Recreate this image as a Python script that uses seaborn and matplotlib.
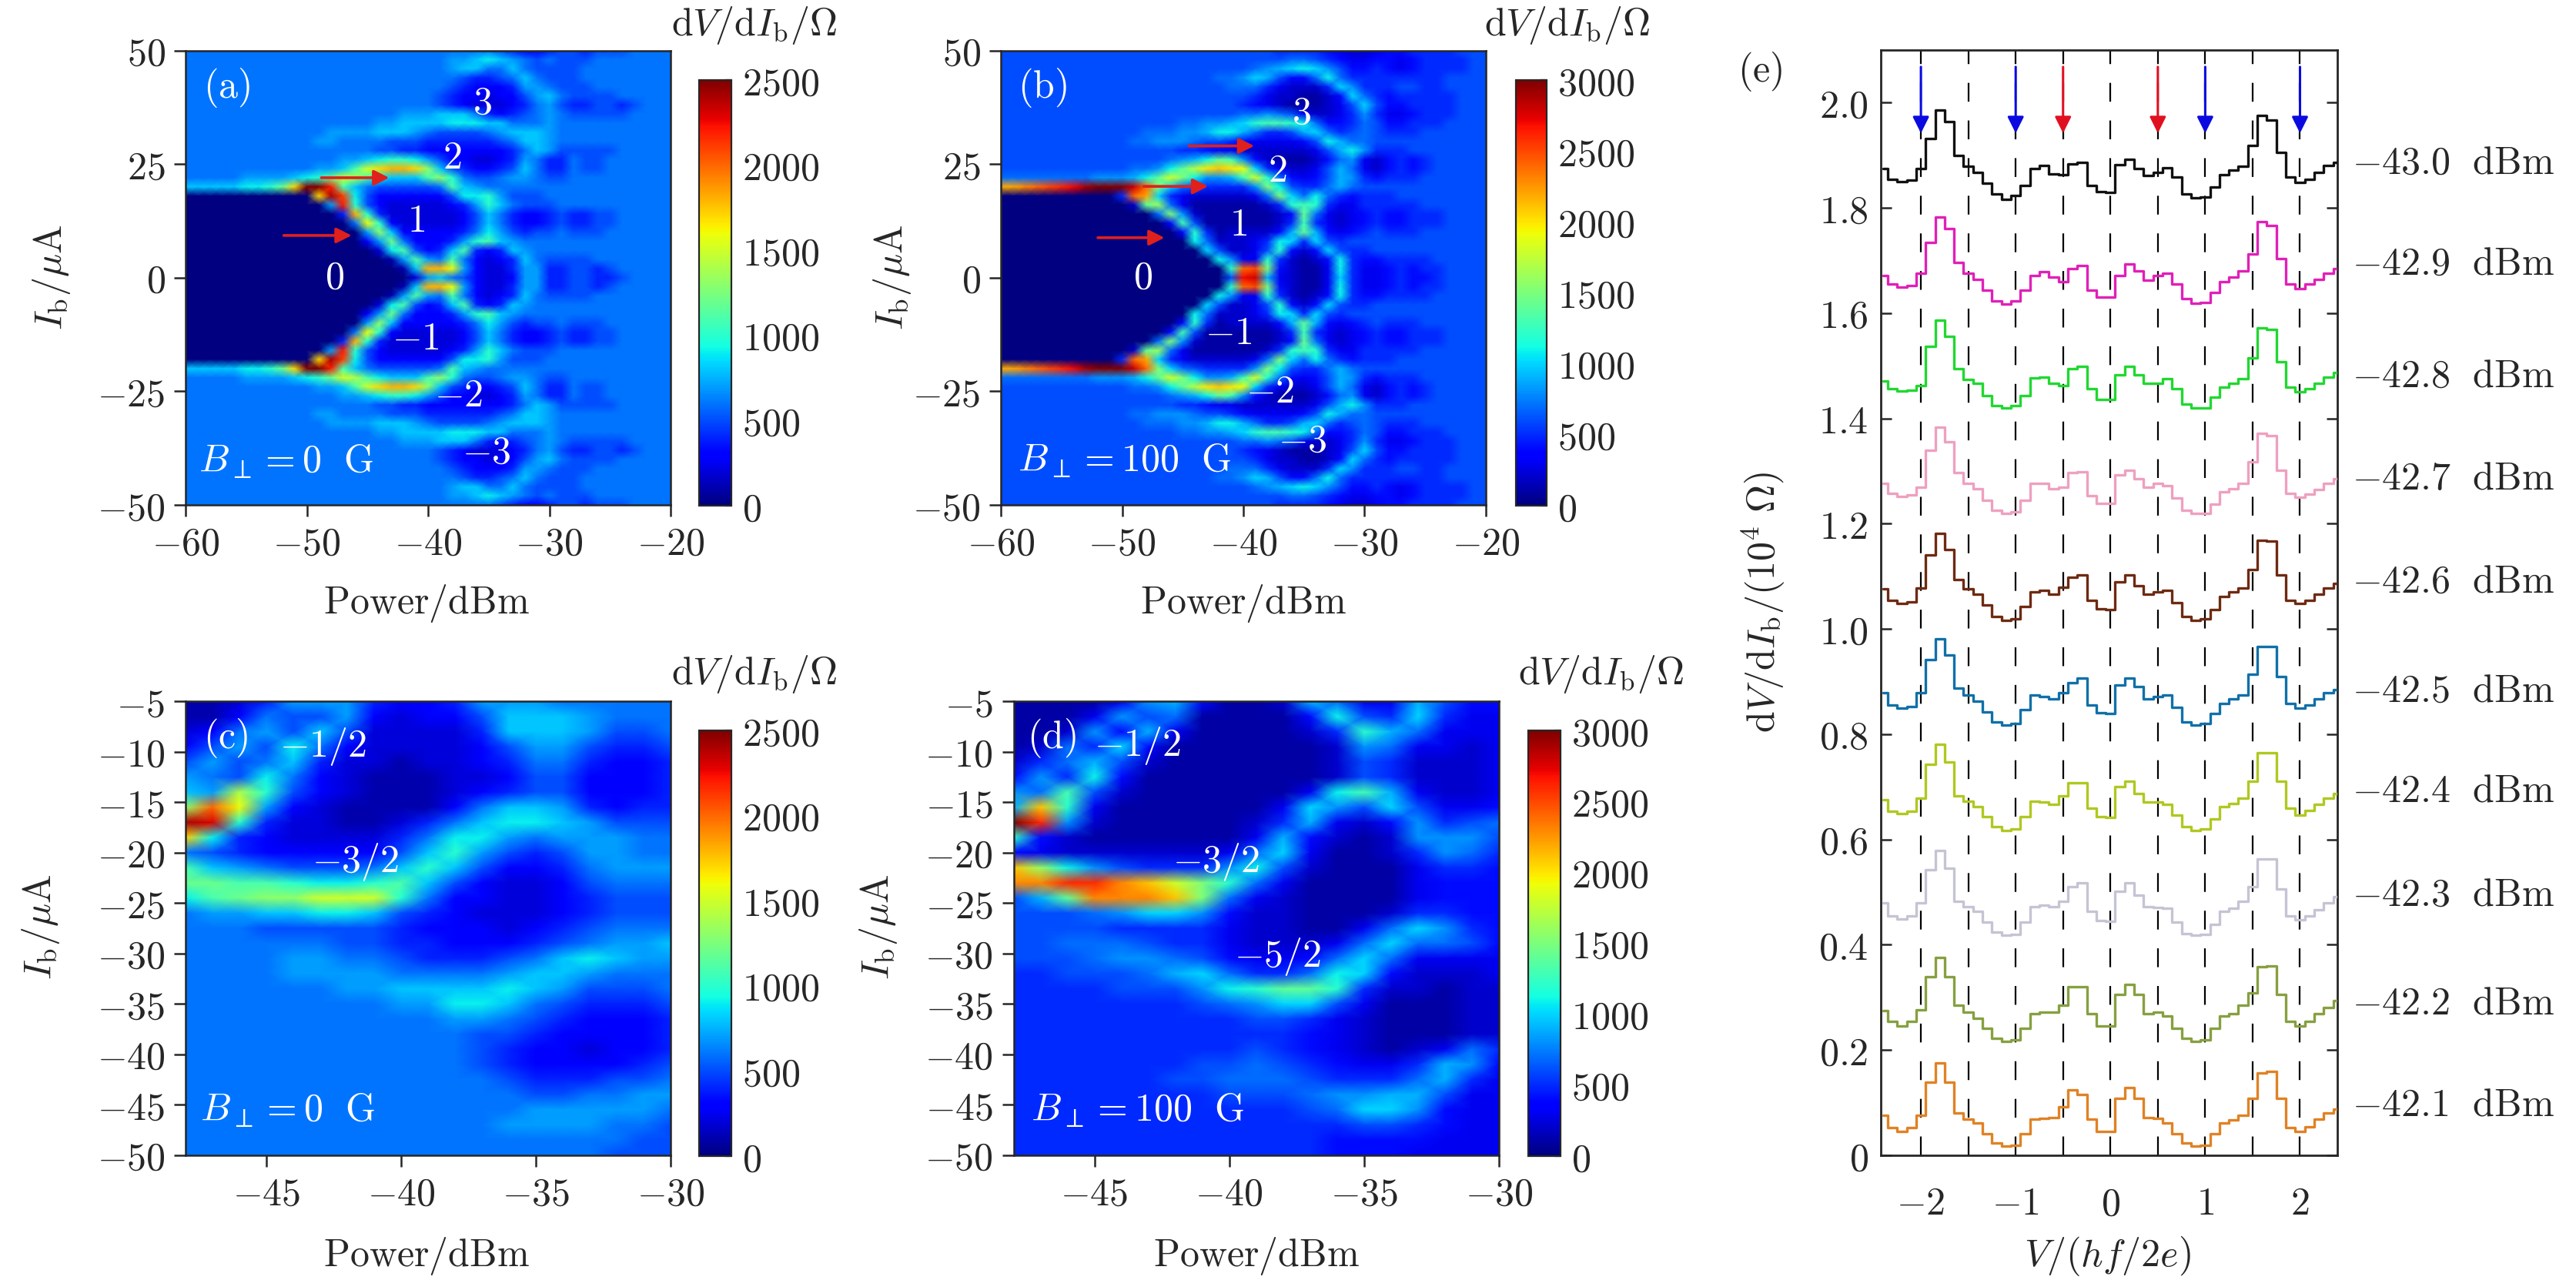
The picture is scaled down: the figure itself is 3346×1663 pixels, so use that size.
import numpy as np
import matplotlib
matplotlib.use('Agg')
import matplotlib.pyplot as plt
import matplotlib.transforms as mtrans
import seaborn as sns

sns.set_style('ticks')
plt.rcParams['mathtext.fontset'] = 'cm'
plt.rcParams['font.family'] = ['DejaVu Serif']
plt.rcParams['axes.linewidth'] = 0.9

W, H = 3346, 1663
FS = 18

# ---- Maps: each character is dV/dIb in units of 100 ohm (base 36) ----
# rows run from +50 uA down to 0 uA in 2 uA steps, columns -60..-20 dBm in 1 dBm steps
map_a_rows = [
    "6666666666 6666666666 6666665433 4554555666 6",
    "6666666666 6666666666 6677898765 6555666666 6",
    "6666666666 6666666666 6678866865 5556666666 6",
    "6666666666 6666666666 6665445686 5556666666 6",
    "6666666666 6666666666 6654333477 6555666666 6",
    "6666666666 6666666666 6543323357 8655556666 6",
    "6666666666 6666666666 6543222346 7544554566 6",
    "6666666666 6666666677 7888643456 7655555666 6",
    "6666666666 6666667788 8899988666 7666666666 6",
    "6666666666 6677778887 6555567888 7666666666 6",
    "6666666666 6776666555 4444445688 7666666666 6",
    "6666666666 6666665544 3333333468 7555556666 6",
    "6666666666 6667789aa9 7533223476 4465566666 6",
    "6666666666 6778bfhiih d854334586 4465566666 6",
    "6666677778 9acfeb9888 bda6556776 5566666666 6",
    "8888899ach ppmb865555 56b8766666 6666666666 6",
    "0000000000 0hol953333 33599a7555 6666666666 6",
    "0000000000 007ma53222 22347a8655 5666666666 6",
    "0000000000 0004ia4222 2223586433 4544556666 6",
    "0000000000 00006ga322 2223586433 4544556666 6",
    "0000000000 000007d833 3334697545 5655566666 6",
    "0000000000 0000037c63 3347ab8766 6666666666 6",
    "0000000000 00000029b5 348b434876 6666666666 6",
    "0000000000 000000017b 76b6323486 5555666666 6",
    "0000000000 0000000018 iig7322477 4455456666 6",
    "0000000000 0000000002 7865322377 4455445666 6",
]

map_b_rows = [
    "6666666666 6666666666 6665555432 2344555566 6",
    "6666666666 6666666666 6666776543 3443455556 6",
    "6666666666 6666666666 6789aba864 4543455556 6",
    "6666666666 6666666677 8a96447b75 5555555666 6",
    "6666666666 6666666667 77532225a8 5556655666 6",
    "6666666666 6666666666 653221124a 7545555566 6",
    "6666666666 6666666666 5432111236 a644555566 6",
    "6666666666 6666666666 7787632235 8533455566 6",
    "6666666666 6666677889 acddcb7445 7644555666 6",
    "6666666666 66777889bb 975569a756 7655566666 6",
    "6666666666 6778887665 4333346b97 7666666666 6",
    "6666666666 6666655433 222222369b 8555666666 6",
    "6666666666 6666789bed 8421112478 3245456666 6",
    "6666666666 6778behklk ja53223697 3245456666 6",
    "7777777788 89beifb889 dic7434698 5455566666 6",
    "mmnopqrtuu usofa76555 58fb655797 6666666666 6",
    "0000000000 5oma532222 237fa7b754 5556666666 6",
    "0000000000 02eg731111 1125cdc533 5555566666 6",
    "0000000000 0007f82111 11124e7323 4544555666 6",
    "0000000000 00004d6111 11125d5323 4544555666 6",
    "0000000000 000004c512 22249e9434 5655566666 6",
    "0000000000 000000b722 235ba5a656 6666666666 6",
    "0000000000 0000000a62 236c424a65 5666666666 6",
    "0000000000 00000000b8 33c52124b5 4455556666 6",
    "0000000000 000000000c opf42113b5 3345455666 6",
    "0000000000 0000000006 rs932113a5 3345445666 6",
]

# rows run from -5 uA to -50 uA in 1.5 uA steps, columns -48..-30 dBm in 1 dBm steps
map_c_rows = [
    "11247 77433 47776 6666",
    "11365 57323 35888 7666",
    "23675 85222 24888 7556",
    "35759 63222 23577 5445",
    "57568 42212 23466 4334",
    "76596 32111 22355 3334",
    "87ea5 32111 23455 3334",
    "dkg73 21111 36887 4344",
    "ona42 21124 68998 7555",
    "h9432 22246 99767 7766",
    "65433 33358 a7545 7766",
    "b8765 5568a 85334 6777",
    "ccbba 99ab8 53223 5666",
    "9bcdd fffa6 33223 4555",
    "67788 99854 32223 4555",
    "66655 55543 33234 5666",
    "66666 65544 33345 6778",
    "66667 76654 44568 9877",
    "66667 77766 66788 7666",
    "66666 67788 88987 5556",
    "66666 66677 99865 4445",
    "66666 66666 77654 3334",
    "66666 66666 65543 3334",
    "66666 66666 65433 2334",
    "66666 66666 65433 3345",
    "66666 66666 66544 4556",
    "66666 66666 66655 6677",
    "66666 66666 66677 7776",
    "66666 66666 66777 7665",
    "66666 66666 66666 6655",
    "66666 66666 66666 6555",
]

map_d_rows = [
    "11113 89411 29733 9644",
    "11138 67111 14b65 a533",
    "11284 93111 125c9 7333",
    "1275a 41111 11287 3323",
    "25796 21111 11265 2223",
    "485b4 11111 11265 2223",
    "87d62 11111 13bd9 3223",
    "9lc31 11111 3a86a 6334",
    "uq821 11112 59324 8567",
    "c4211 11113 94212 8886",
    "43222 22237 a3112 5875",
    "lgb86 5558b 62111 3554",
    "nnqqn lifc7 31111 3444",
    "69enn nlf73 21111 3444",
    "66678 aa842 21112 5544",
    "66665 55532 21137 a854",
    "66777 65532 2237a 7764",
    "66678 87643 347a7 3333",
    "55666 79a75 57ba4 2223",
    "55556 668bc eec52 2122",
    "55555 55678 aa631 1122",
    "55555 55556 65321 1122",
    "55555 55555 54321 1122",
    "55555 55556 54321 2375",
    "55555 55667 65433 5984",
    "55555 56677 76555 7953",
    "55555 55566 67889 9633",
    "55555 55555 567aa 8433",
    "55555 55555 55566 5433",
    "55555 55555 55444 4333",
    "55555 55555 55444 3333",
]

# ---- Traces of panel (e): thousandths above each trace's own offset ----
volt = np.arange(-24, 25) / 10
powers = ['-43.0', '-42.9', '-42.8', '-42.7', '-42.6', '-42.5', '-42.4', '-42.3', '-42.2', '-42.1']
offsets = [1.8, 1.6, 1.4, 1.2, 1.0, 0.8, 0.6, 0.4, 0.2, 0.0]
label_levels = [1.885, 1.693, 1.48, 1.285, 1.09, 0.882, 0.692, 0.495, 0.288, 0.095]
trace_colors = ['#111111', '#e020b8', '#20d830', '#eea0c0', '#6e2a12',
                '#1070a8', '#b0c820', '#c4c4d4', '#86a040', '#e08224']

trace_430 = [75, 55, 50, 53, 75, 132, 186, 164, 100, 79, 67, 47, 27, 17, 23, 43, 75, 81, 64, 63,
             83, 86, 43, 31, 29, 82, 92, 75, 61, 67, 76, 59, 27, 19, 21, 39, 63, 72, 79, 118,
             176, 167, 106, 59, 49, 55, 67, 80, 86]
trace_429 = [72, 56, 50, 52, 76, 134, 183, 161, 96, 76, 64, 44, 23, 18, 23, 44, 72, 79, 68, 60,
             84, 91, 44, 31, 31, 72, 94, 80, 63, 72, 76, 56, 28, 19, 20, 40, 60, 68, 80, 113,
             174, 167, 104, 56, 47, 55, 64, 76, 84]
trace_428 = [71, 56, 52, 54, 63, 137, 186, 156, 95, 74, 67, 44, 24, 20, 24, 44, 77, 79, 67, 63,
             95, 99, 56, 36, 36, 83, 99, 83, 67, 67, 75, 56, 28, 20, 20, 40, 60, 67, 75, 115,
             172, 169, 107, 60, 50, 56, 67, 79, 87]
trace_427 = [77, 57, 52, 55, 69, 139, 183, 155, 97, 77, 67, 45, 25, 20, 23, 45, 77, 77, 67, 69,
             97, 99, 53, 39, 39, 93, 102, 85, 69, 77, 73, 49, 25, 20, 20, 37, 60, 67, 77, 117,
             171, 168, 101, 57, 51, 56, 65, 77, 86]
trace_426 = [76, 54, 48, 52, 78, 140, 181, 151, 94, 76, 66, 46, 24, 17, 20, 42, 71, 74, 66, 79,
             98, 102, 54, 38, 37, 90, 102, 82, 66, 71, 74, 50, 24, 17, 20, 37, 62, 70, 78, 113,
             169, 167, 102, 54, 48, 54, 66, 78, 86]
trace_425 = [79, 55, 49, 53, 79, 142, 181, 150, 87, 75, 63, 43, 24, 17, 20, 47, 75, 72, 67, 79,
             98, 106, 55, 41, 39, 94, 106, 91, 67, 72, 75, 51, 24, 17, 20, 39, 59, 67, 75, 114,
             167, 167, 110, 59, 49, 55, 67, 79, 85]
trace_424 = [75, 53, 49, 53, 79, 143, 181, 147, 83, 73, 63, 43, 24, 17, 20, 43, 73, 71, 67, 83,
             108, 108, 59, 43, 42, 100, 110, 87, 71, 71, 67, 47, 24, 17, 20, 39, 63, 69, 79, 110,
             165, 165, 110, 59, 47, 55, 67, 79, 87]
trace_423 = [79, 55, 49, 55, 79, 143, 179, 146, 83, 72, 63, 43, 24, 18, 20, 43, 72, 75, 72, 83,
             110, 117, 63, 46, 45, 102, 117, 94, 72, 71, 69, 43, 21, 18, 20, 39, 63, 69, 83, 110,
             163, 163, 106, 55, 47, 55, 67, 79, 91]
trace_422 = [75, 54, 46, 54, 77, 140, 176, 140, 85, 72, 61, 42, 22, 17, 20, 42, 69, 72, 72, 85,
             120, 120, 69, 46, 46, 105, 124, 106, 69, 72, 64, 42, 22, 17, 20, 42, 65, 69, 85, 109,
             158, 160, 105, 54, 46, 54, 69, 81, 94]
trace_421 = [76, 53, 45, 53, 76, 139, 175, 139, 80, 69, 61, 41, 23, 17, 19, 41, 69, 70, 72, 92,
             124, 116, 69, 46, 46, 108, 129, 108, 72, 70, 61, 41, 23, 17, 19, 41, 61, 67, 76, 108,
             157, 159, 108, 53, 45, 54, 69, 80, 88]
traces = [trace_430, trace_429, trace_428, trace_427, trace_426,
          trace_425, trace_424, trace_423, trace_422, trace_421]

dash_positions = [-2, -1.5, -1, -0.5, 0, 0.5, 1, 1.5, 2]
blue_arrows = [-2, -1, 1, 2]
red_arrows = [-0.5, 0.5]


def parse_map(rows):
    return np.array([[int(c, 36) for c in r.replace(' ', '')] for r in rows], dtype=float) * 100


def ax_px(fig, left, right, top, bottom):
    return fig.add_axes([left / W, 1 - bottom / H, (right - left) / W, (bottom - top) / H])


def fig_text(fig, x, y, s, **kw):
    fig.text(x / W, 1 - y / H, s, ha='center', va='center', fontsize=FS, **kw)


def tex_num(v):
    return f'${v}$'


def draw_map(ax, cax, data, p0, dp, i0, di, xticks, yticks, vmax, cticks):
    sns.heatmap(data, ax=ax, cbar_ax=cax, cmap='jet', vmin=0, vmax=vmax,
                xticklabels=False, yticklabels=False, cbar_kws={'ticks': cticks},
                shading='gouraud')
    ax.set_xlim(0, data.shape[1] - 1)
    ax.set_ylim(data.shape[0] - 1, 0)
    ax.set_xticks([(p - p0) / dp for p in xticks], labels=[tex_num(p) for p in xticks])
    ax.set_yticks([(i0 - i) / di for i in yticks], labels=[tex_num(i) for i in yticks])
    ax.tick_params(length=5.5, width=0.9, labelsize=FS, pad=4, bottom=True, left=True)
    for sp in ax.spines.values():
        sp.set_visible(True)
        sp.set_linewidth(0.9)
    cax.set_yticks(cticks, labels=[tex_num(c) for c in cticks])
    cax.tick_params(direction='in', length=3, width=0.8, labelsize=FS, pad=5)
    ax.collections[0].colorbar.outline.set_linewidth(0.8)
    ax.collections[0].colorbar.outline.set_visible(True)

    def pos(p, i):
        return (p - p0) / dp, (i0 - i) / di
    return pos


def notes(ax, pos, items):
    for p, i, s in items:
        x, y = pos(p, i)
        ax.text(x, y, s, color='white', fontsize=FS, ha='center', va='center')


def red_arrow(ax, pos, p_from, p_to, i):
    ax.annotate('', xy=pos(p_to, i), xytext=pos(p_from, i),
                arrowprops=dict(arrowstyle='-|>', color='#e0201c', lw=1.3, mutation_scale=15,
                                shrinkA=0, shrinkB=0))


fig = plt.figure(figsize=(W / 200, H / 200))

map_a = parse_map(map_a_rows)
map_b = parse_map(map_b_rows)
# the maps are mirrored about zero bias, only the upper half is tabulated
map_a = np.vstack([map_a, map_a[-2::-1]])
map_b = np.vstack([map_b, map_b[-2::-1]])
map_c = parse_map(map_c_rows)
map_d = parse_map(map_d_rows)

ticks_p1 = [-60, -50, -40, -30, -20]
ticks_i1 = [50, 25, 0, -25, -50]
ticks_p2 = [-45, -40, -35, -30]
ticks_i2 = [-5, -10, -15, -20, -25, -30, -35, -40, -45, -50]
ticks_25 = [0, 500, 1000, 1500, 2000, 2500]
ticks_30 = [0, 500, 1000, 1500, 2000, 2500, 3000]

# ---- Panel (a) ----
ax = ax_px(fig, 241, 871, 65.6, 656)
cax = ax_px(fig, 908, 950, 104, 657)
pos = draw_map(ax, cax, map_a, -60, 1, 50, 2, ticks_p1, ticks_i1, 2500, ticks_25)
notes(ax, pos, [(-56.6, 41.8, r'$\mathrm{(a)}$'), (-35.5, 38.4, '$3$'), (-38, 26.3, '$2$'),
                (-41, 12.5, '$1$'), (-47.7, 0, '$0$'), (-41, -13.4, '$-1$'),
                (-37.5, -26, '$-2$'), (-35.2, -38.5, '$-3$'),
                (-51.7, -40.4, r'$B_{\perp}=0\ \ \mathrm{G}$')])
red_arrow(ax, pos, -48.8, -43.2, 22)
red_arrow(ax, pos, -51.9, -46.3, 9.3)

# ---- Panel (b) ----
ax = ax_px(fig, 1300, 1930, 65.6, 656)
cax = ax_px(fig, 1969, 2009, 104, 657)
pos = draw_map(ax, cax, map_b, -60, 1, 50, 2, ticks_p1, ticks_i1, 3000, ticks_30)
notes(ax, pos, [(-56.6, 41.8, r'$\mathrm{(b)}$'), (-35.2, 36.2, '$3$'), (-37.2, 23.5, '$2$'),
                (-40.4, 11.6, '$1$'), (-48.3, 0, '$0$'), (-41.2, -12.3, '$-1$'),
                (-37.8, -25.2, '$-2$'), (-35.1, -36, '$-3$'),
                (-49.8, -40.3, r'$B_{\perp}=100\ \ \mathrm{G}$')])
red_arrow(ax, pos, -44.5, -39.1, 29)
red_arrow(ax, pos, -48.2, -42.9, 20.1)
red_arrow(ax, pos, -52, -46.5, 8.8)

# ---- Panel (c) ----
ax = ax_px(fig, 241, 871, 911.4, 1500.6)
cax = ax_px(fig, 908, 950, 949, 1502)
pos = draw_map(ax, cax, map_c, -48, 1, -5, 1.5, ticks_p2, ticks_i2, 2500, ticks_25)
notes(ax, pos, [(-46.5, -8.6, r'$\mathrm{(c)}$'), (-42.9, -9.5, '$-1/2$'), (-41.7, -20.9, '$-3/2$'),
                (-44.2, -45.6, r'$B_{\perp}=0\ \ \mathrm{G}$')])

# ---- Panel (d) ----
ax = ax_px(fig, 1316.6, 1947, 911.4, 1500.6)
cax = ax_px(fig, 1985, 2027, 949, 1502)
pos = draw_map(ax, cax, map_d, -48, 1, -5, 1.5, ticks_p2, ticks_i2, 3000, ticks_30)
notes(ax, pos, [(-46.6, -8.6, r'$\mathrm{(d)}$'), (-43.4, -9.4, '$-1/2$'), (-40.5, -20.9, '$-3/2$'),
                (-38.2, -30.3, '$-5/2$'), (-43.4, -45.6, r'$B_{\perp}=100\ \ \mathrm{G}$')])

# ---- Panel (e) ----
ax = ax_px(fig, 2443.4, 3035.5, 65, 1501)
for v in dash_positions:
    ax.axvline(v, color='black', lw=0.8, dashes=(11, 11), zorder=1)
for vals, off, col in zip(traces, offsets, trace_colors):
    sns.lineplot(x=volt, y=np.array(vals) / 1000 + off, ax=ax, color=col, lw=1.2,
                 drawstyle='steps-mid', estimator=None, errorbar=None, zorder=3)
ax.set_xlim(-2.42, 2.39)
ax.set_ylim(0, 2.1)
ax.set_xticks([-2, -1, 0, 1, 2], labels=[tex_num(v) for v in [-2, -1, 0, 1, 2]])
ytk = [0, 0.2, 0.4, 0.6, 0.8, 1.0, 1.2, 1.4, 1.6, 1.8, 2.0]
ax.set_yticks(ytk, labels=['$0$'] + [f'${v:.1f}$' for v in ytk[1:]])
ax.tick_params(axis='x', length=0, labelsize=FS, pad=14)
ax.tick_params(axis='y', direction='in', length=5, width=0.9, labelsize=FS, right=True, pad=6)
for sp in ax.spines.values():
    sp.set_visible(True)
    sp.set_linewidth(1.0)
for v in blue_arrows + red_arrows:
    col = '#0a0ae0' if v in blue_arrows else '#e01020'
    ax.annotate('', xy=(v, 1.942), xytext=(v, 2.068),
                arrowprops=dict(arrowstyle='-|>', color=col, lw=1.1, mutation_scale=16,
                                shrinkA=0, shrinkB=0), zorder=5)
tr = mtrans.blended_transform_factory(ax.transAxes, ax.transData)
for p, lv in zip(powers, label_levels):
    ax.text(1.033, lv, rf'${p}\ \ \mathrm{{dBm}}$', transform=tr, va='center', ha='left', fontsize=FS)

# ---- Axis titles and panel tag ----
cb_title = r'$\mathrm{d}V/\mathrm{d}I_{\mathrm{b}}/\Omega$'
ib_label = r'$I_{\mathrm{b}}/\mathrm{\mu A}$'
power_label = r'$\mathrm{Power/dBm}$'
fig_text(fig, 980, 33, cb_title)
fig_text(fig, 2036, 33, cb_title)
fig_text(fig, 980, 876, cb_title)
fig_text(fig, 2080, 876, cb_title)
fig_text(fig, 554, 784, power_label)
fig_text(fig, 1615, 784, power_label)
fig_text(fig, 554, 1632, power_label)
fig_text(fig, 1632, 1632, power_label)
fig_text(fig, 67, 360, ib_label, rotation=90)
fig_text(fig, 1159, 360, ib_label, rotation=90)
fig_text(fig, 53, 1204, ib_label, rotation=90)
fig_text(fig, 1141, 1204, ib_label, rotation=90)
fig_text(fig, 2291, 783, r'$\mathrm{d}V/\mathrm{d}I_{\mathrm{b}}/(10^4\ \Omega)$', rotation=90)
fig_text(fig, 2737, 1632, r'$V/(hf/2e)$')
fig_text(fig, 2286, 93, r'$\mathrm{(e)}$')

fig.savefig('out.png', dpi=200)
